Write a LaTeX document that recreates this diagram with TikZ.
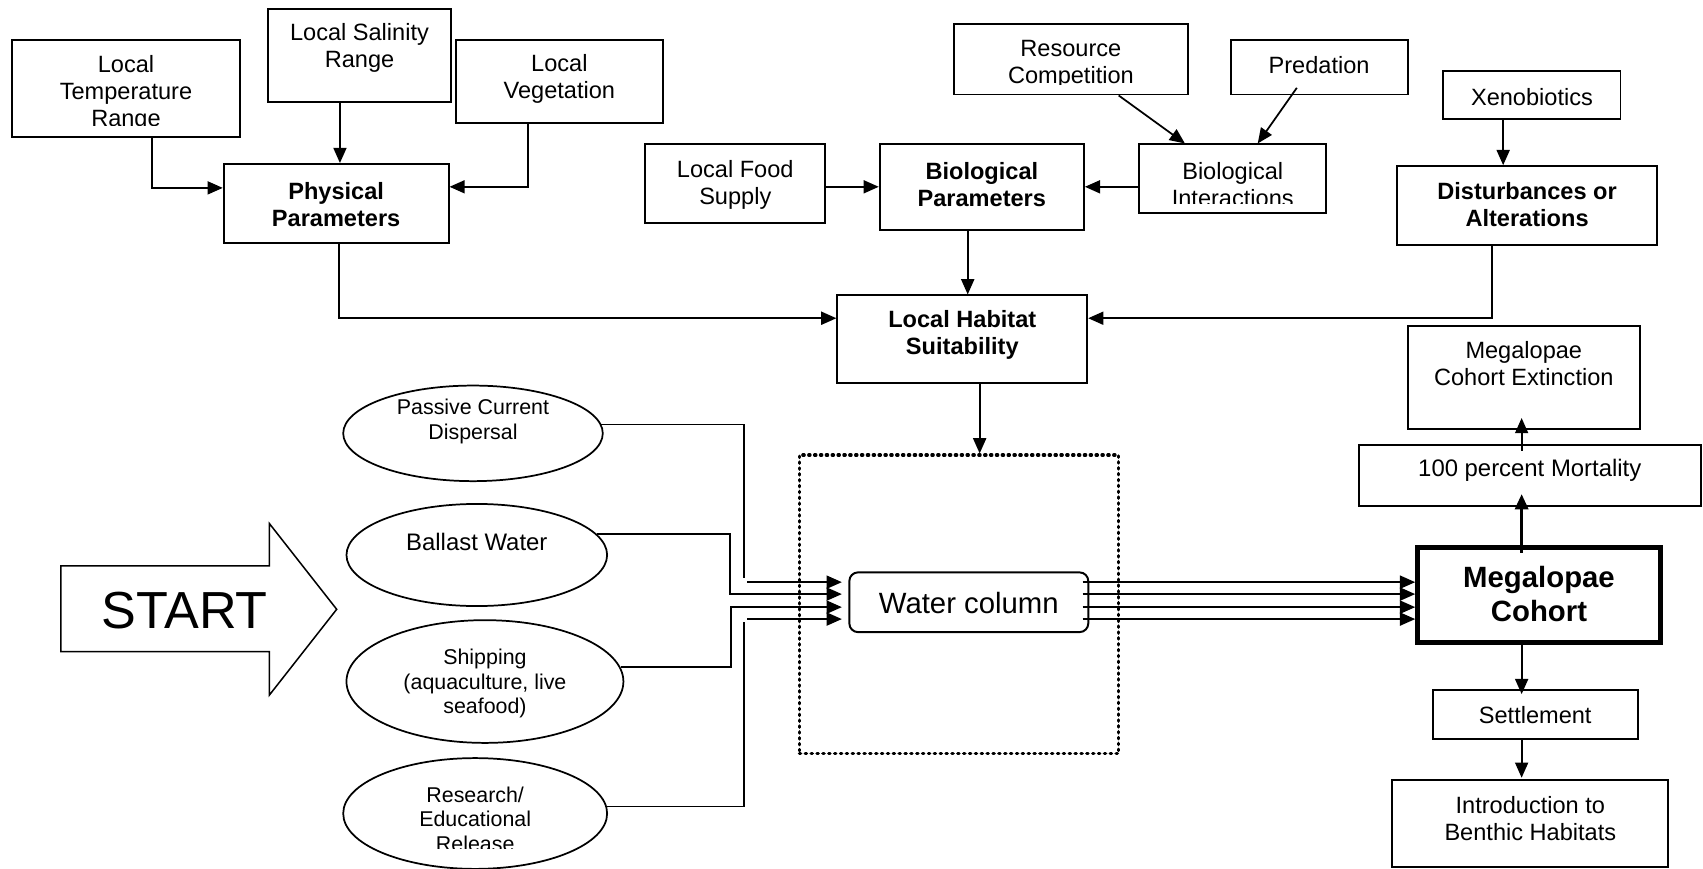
\documentclass[tikz,border=0pt]{standalone}
\usepackage{fontspec}
\setmainfont{Liberation Sans}
\usetikzlibrary{arrows.meta,shapes.geometric}

\begin{document}
\begin{tikzpicture}[x=1pt,y=-1pt,
  box/.style={draw, line width=1.8pt, inner sep=0pt},
  oval/.style={draw, ellipse, line width=1.6pt, inner sep=0pt},
  txt/.style={align=center, inner sep=0pt, font=\fontsize{21.7}{25}\selectfont},
  btxt/.style={align=center, inner sep=0pt, font=\fontsize{21.7}{25}\selectfont\bfseries},
  stxt/.style={align=center, inner sep=0pt, font=\fontsize{19.7}{22.6}\selectfont},
  link/.style={line width=1.6pt},
  arr/.style={link, -{Triangle[length=14pt,width=12pt]}},
]
\fill[white] (0,0) rectangle (1568,800);
\useasboundingbox (0,0) rectangle (1568,800);

% ---------- physical factors ----------
\node[box, minimum width=210pt, minimum height=89pt] (temp) at (116,81.5) {};
\begin{scope}
  \clip (11,37) rectangle (221,116);
  \node[txt] (temp-t) at (116,86) {Local\\Temperature\\Range};
\end{scope}
\node[box, minimum width=168pt, minimum height=86pt] (sal) at (331,51) {};
\node[txt] (sal-t) at (331,44) {Local Salinity\\Range};
\node[box, minimum width=190pt, minimum height=76pt] (veg) at (515,75) {};
\node[txt] (veg-t) at (515,73) {Local\\Vegetation};
\node[box, minimum width=207pt, minimum height=73pt] (phys) at (309.5,187.5) {};
\node[btxt] (phys-t) at (309.5,188) {Physical\\Parameters};

% ---------- biological factors ----------
\node[box, minimum width=166pt, minimum height=72pt] (food) at (677,169) {};
\node[txt] (food-t) at (677,170) {Local Food\\Supply};
\node[box, minimum width=188pt, minimum height=79pt] (bio) at (904,172.5) {};
\node[btxt] (bio-t) at (904,170) {Biological\\Parameters};
\node[box, minimum width=216pt, minimum height=65pt] (res) at (986,54.5) {};
\begin{scope}
  \clip (878,22) rectangle (1094,78);
  \node[txt] (res-t) at (986,59) {Resource\\Competition};
\end{scope}
\node[box, minimum width=163pt, minimum height=50pt] (pred) at (1214.5,62) {};
\node[txt] (pred-t) at (1214.5,60) {Predation};
\node[box, minimum width=172pt, minimum height=63pt] (bint) at (1135,164.5) {};
\begin{scope}
  \clip (1049,133) rectangle (1221,187);
  \node[txt] (bint-t) at (1135,170) {Biological\\Interactions};
\end{scope}

% ---------- disturbances ----------
\node[box, minimum width=163pt, minimum height=45pt] (xeno) at (1410.5,87.5) {};
\node[txt] (xeno-t) at (1410.5,89) {Xenobiotics};
\node[box, minimum width=240pt, minimum height=73pt] (dist) at (1406,189.5) {};
\node[btxt] (dist-t) at (1406,188) {Disturbances or\\Alterations};

% ---------- habitat ----------
\node[box, minimum width=230pt, minimum height=81pt] (hab) at (886,312.5) {};
\node[btxt] (hab-t) at (886,308) {Local Habitat\\Suitability};

% ---------- outcome column ----------
\node[box, minimum width=214pt, minimum height=95pt] (ext) at (1403,347.5) {};
\node[txt] (ext-t) at (1403,335) {Megalopae\\Cohort Extinction};
\node[box, minimum width=315pt, minimum height=56pt] (mort) at (1408.5,438) {};
\node[txt, font=\fontsize{22}{25}\selectfont] (mort-t) at (1408.5,433) {100 percent Mortality};
\node[box, line width=4.6pt, minimum width=223.4pt, minimum height=87.4pt] (meg) at (1417,548) {};
\node[align=center, inner sep=0pt, font=\fontsize{27}{31}\selectfont\bfseries] (meg-t) at (1417,547) {Megalopae\\Cohort};
\node[box, minimum width=189pt, minimum height=45pt] (set) at (1413.5,657.5) {};
\node[txt] (set-t) at (1413.5,658) {Settlement};
\node[box, minimum width=254pt, minimum height=80pt] (intro) at (1409,758) {};
\node[txt] (intro-t) at (1409,754) {Introduction to\\Benthic Habitats};

% ---------- water column ----------
\node[draw, line width=3pt, dash pattern=on 1.2pt off 4.2pt, line cap=round,
      inner sep=0pt, minimum width=294pt, minimum height=275pt] (zone) at (883,556.5) {};
\node[box, rounded corners=8pt, minimum width=220pt, minimum height=55pt] (water) at (892,554.5) {};
\node[align=center, inner sep=0pt, font=\fontsize{27}{31}\selectfont] (water-t) at (892,555) {Water column};

% ---------- introduction pathways ----------
\node[oval, minimum width=239pt, minimum height=88pt] (pass) at (435.5,399) {};
\node[stxt] (pass-t) at (435.5,388) {Passive Current\\Dispersal};
\node[oval, minimum width=240pt, minimum height=94pt] (ball) at (439,511) {};
\node[txt, font=\fontsize{22}{25}\selectfont] (ball-t) at (439,499) {Ballast Water};
\node[oval, minimum width=255pt, minimum height=113pt] (ship) at (446.5,627.5) {};
\node[stxt] (ship-t) at (446.5,629.5) {Shipping\\(aquaculture, live\\seafood)};
\node[oval, minimum width=243pt, minimum height=102pt] (rsch) at (437.5,749) {};
\begin{scope}
  \clip (316,698) rectangle (560,781);
  \node[stxt] (rsch-t) at (437.5,754) {Research/\\Educational\\Release};
\end{scope}

% ---------- start arrow ----------
\draw[line width=1.4pt, fill=white] (56,521) -- (248,521) -- (248,482) -- (310,561)
  -- (248,640) -- (248,600) -- (56,600) -- cycle;
\node[inner sep=0pt, font=\fontsize{48}{56}\selectfont] (start) at (170,562) {START};

% ---------- connectors: parameters ----------
\draw[arr] ([xshift=24pt]temp.south) |- ([yshift=14.5pt]phys.west);
\draw[arr] ([xshift=-18pt]sal.south) -- ([xshift=3.5pt]phys.north);
\draw[arr] ([xshift=-29pt]veg.south) |- ([yshift=15.5pt]phys.east);
\draw[arr] ([xshift=2.5pt]phys.south) |- ([yshift=19.5pt]hab.west);
\draw[arr] ([yshift=-3pt]food.east) -- ([yshift=0.5pt]bio.west);
\draw[arr] ([yshift=-7.5pt]bint.west) -- ([yshift=0.5pt]bio.east);
\draw[arr] ([xshift=44pt]res.south) -- ([xshift=-44pt]bint.north);
\draw[arr] ([xshift=-20.5pt,yshift=7pt]pred.south) -- ([xshift=23pt]bint.north);
\draw[arr] ([xshift=-13pt]bio.south) -- ([xshift=5pt]hab.north);
\draw[arr] ([xshift=-26.5pt]xeno.south) -- ([xshift=-22pt]dist.north);
\draw[arr] ([xshift=-32pt]dist.south) |- ([yshift=19.5pt]hab.east);
\draw[arr] ([xshift=16pt]hab.south) -- ([xshift=19pt]zone.north);

% ---------- connectors: pathways into the water column ----------
\coordinate (in1) at ([xshift=-6pt,yshift=18.5pt]water.west);
\coordinate (in2) at ([xshift=-6pt,yshift=7.5pt]water.west);
\coordinate (in3) at ([xshift=-6pt,yshift=-4.5pt]water.west);
\coordinate (in4) at ([xshift=-6pt,yshift=-15.5pt]water.west);
\coordinate (pj) at (685,532);
\coordinate (pk) at (688,536);
\coordinate (bj) at (672,547);
\coordinate (sj) at (673,559);
\coordinate (rj) at (685,573);
\coordinate (rk) at (688,570);
\draw[link] (pass.4) -| (pj);
\draw[arr] (pk) -- (in1);
\draw[arr] (ball.10) -| (bj) -- (in2);
\draw[arr] (ship.6) -| (sj) -- (in3);
\draw[link] (rsch.3) -| (rj);
\draw[arr] (rk) -- (in4);

% ---------- connectors: water column to cohort ----------
\draw[arr] ([xshift=-6pt,yshift=18.5pt]water.east) -- ([yshift=12pt]meg.west);
\draw[arr] ([xshift=-6pt,yshift=7.5pt]water.east) -- ([yshift=1pt]meg.west);
\draw[arr] ([xshift=-6pt,yshift=-4.5pt]water.east) -- ([yshift=-11pt]meg.west);
\draw[arr] ([xshift=-6pt,yshift=-15.5pt]water.east) -- ([yshift=-22pt]meg.west);

% ---------- connectors: outcomes ----------
\draw[arr, line width=2.8pt] ([xshift=-16pt,yshift=-7pt]meg.north) -- ([xshift=-7.5pt,yshift=12pt]mort.south);
\draw[arr] ([xshift=-7.5pt,yshift=-6pt]mort.north) -- ([xshift=-2pt,yshift=11pt]ext.south);
\draw[arr] ([xshift=-16pt]meg.south) -- ([xshift=-12.5pt,yshift=-5pt]set.north);
\draw[arr] ([xshift=-12.5pt]set.south) -- ([xshift=-8pt,yshift=1pt]intro.north);
\end{tikzpicture}
\end{document}
